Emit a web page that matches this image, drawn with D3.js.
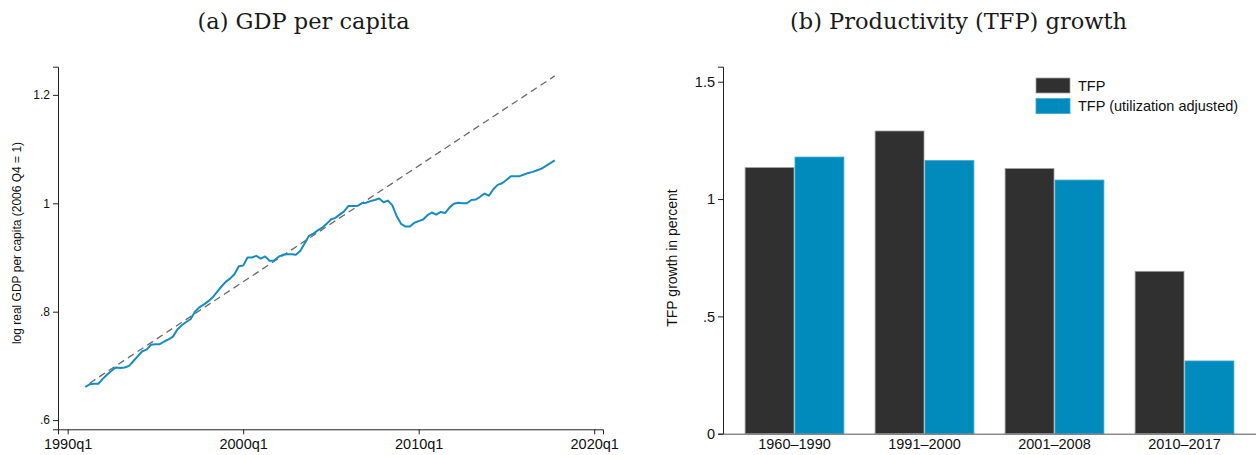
<!DOCTYPE html>
<html><head><meta charset="utf-8">
<script src="https://cdn.jsdelivr.net/npm/d3@7"></script>
<style>body{margin:0;background:#fff}svg{display:block}</style>
</head><body>
<svg id="c" width="1256" height="455"></svg>
<script>
// ---------- Data ----------
// Panel (a): quarterly log real GDP per capita, 1991q1 .. 2017q4 (Stata quarter index: 1960q1 = 0)
const gdpStartQuarter = 124; // 1991q1
const gdpValues = [
  0.661,0.666,0.667,0.667,0.676,0.684,0.691,0.697,0.696,0.697,0.700,0.709,0.718,0.727,0.730,0.739,
  0.740,0.740,0.745,0.749,0.754,0.767,0.775,0.781,0.786,0.800,0.808,0.813,0.819,0.826,0.836,0.846,
  0.855,0.861,0.869,0.884,0.885,0.900,0.900,0.903,0.898,0.902,0.894,0.894,0.901,0.905,0.906,0.906,
  0.905,0.912,0.926,0.940,0.944,0.950,0.955,0.962,0.970,0.973,0.979,0.985,0.995,0.995,0.995,1.000,
  1.001,1.004,1.006,1.009,1.002,1.005,0.996,0.976,0.962,0.957,0.957,0.964,0.967,0.970,0.978,0.983,
  0.979,0.984,0.982,0.992,0.999,1.001,1.000,1.000,1.006,1.007,1.012,1.018,1.014,1.026,1.034,1.037,
  1.043,1.050,1.050,1.050,1.053,1.056,1.058,1.061,1.064,1.069,1.074,1.079
];
const trendQuarters = [125, 231];     // 1991q2, 2017q4
const trendValues = [0.668, 1.235];
const gdpXTicks = [120, 160, 200, 240];
const gdpYTicks = [0.6, 0.8, 1.0, 1.2];

// Panel (b): TFP growth
const periods = ["1960\u20131990", "1991\u20132000", "2001\u20132008", "2010\u20132017"];
const tfp = [1.134, 1.290, 1.130, 0.692];
const tfpAdj = [1.179, 1.164, 1.081, 0.310];
const seriesNames = ["TFP", "TFP (utilization adjusted)"];
const tfpYTicks = [0, 0.5, 1, 1.5];

// ---------- Drawing ----------
const svg = d3.select("#c");
const sans = "'Liberation Sans', Arial, Helvetica, sans-serif";
const serif = "'DejaVu Serif', 'Liberation Serif', serif";
const fmtStata = v => { let s = d3.format("~g")(+v.toFixed(2)); return s.replace(/^0\./, "."); };

// Panel (a)
{
  const x = d3.scaleLinear().domain([117.8, 242]).range([58, 603]);
  const y = d3.scaleLinear().domain([0.583, 1.252]).range([429.3, 66.7]);
  const g = svg.append("g");

  g.append("text").attr("x", 303.5).attr("y", 29).attr("text-anchor", "middle")
    .style("font-family", serif).style("font-size", "22.5px").attr("fill", "#1a1a1a").text("(a) GDP per capita");

  const xa = g.append("g").attr("transform", "translate(0,429.3)")
    .call(d3.axisBottom(x).tickValues(gdpXTicks).tickSizeOuter(0).tickSize(5).tickPadding(4)
      .tickFormat(q => (1960 + Math.floor(q / 4)) + "q" + (q % 4 + 1)));
  xa.selectAll("text").style("font-family", sans).style("font-size", "14.5px").attr("fill", "#111");
  const ya = g.append("g").attr("transform", "translate(58,0)")
    .call(d3.axisLeft(y).tickValues(gdpYTicks).tickSizeOuter(0).tickSize(5).tickPadding(3).tickFormat(fmtStata));
  ya.selectAll("text").style("font-family", sans).style("font-size", "12px").attr("fill", "#111");
  g.selectAll(".domain").attr("stroke", "#222");
  g.selectAll(".tick line").attr("stroke", "#222");

  g.append("text").attr("transform", "translate(21,243) rotate(-90)").attr("text-anchor", "middle")
    .style("font-family", sans).style("font-size", "12px").attr("fill", "#111")
    .text("log real GDP per capita (2006 Q4 = 1)");

  // trend
  const trend = trendQuarters.map((q, i) => [q, trendValues[i]]);
  g.append("path").datum(trend)
    .attr("d", d3.line().x(d => x(d[0])).y(d => y(d[1])))
    .attr("fill", "none").attr("stroke", "#6a6a6a").attr("stroke-width", 1.3)
    .attr("stroke-dasharray", "7,4.5");

  const series = gdpValues.map((v, i) => [gdpStartQuarter + i, v]);
  g.append("path").datum(series)
    .attr("d", d3.line().x(d => x(d[0])).y(d => y(d[1])))
    .attr("fill", "none").attr("stroke", "#168cc2").attr("stroke-width", 2)
    .attr("stroke-linejoin", "round");
}

// Panel (b)
{
  const x0 = d3.scaleBand().domain(periods).range([723, 1256]).paddingInner(0.24).paddingOuter(0.17);
  const x1 = d3.scaleBand().domain(seriesNames).range([0, x0.bandwidth()]).paddingInner(0.02);
  const y = d3.scaleLinear().domain([0, 1.564]).range([433.7, 66.7]);
  const colors = ["#303030", "#008bbc"];
  const strokes = ["#a0a0a0", "#3fa6cf"];
  const g = svg.append("g");

  g.append("text").attr("x", 958.5).attr("y", 29).attr("text-anchor", "middle")
    .style("font-family", serif).style("font-size", "22.5px").attr("fill", "#1a1a1a").text("(b) Productivity (TFP) growth");

  const groups = g.selectAll(".grp").data(periods).join("g")
    .attr("transform", d => `translate(${x0(d)},0)`);
  groups.selectAll("rect").data((d, i) => [tfp[i], tfpAdj[i]]).join("rect")
    .attr("x", (d, j) => x1(seriesNames[j]))
    .attr("width", x1.bandwidth())
    .attr("y", d => y(d)).attr("height", d => y(0) - y(d))
    .attr("fill", (d, j) => colors[j]).attr("stroke", (d, j) => strokes[j]).attr("stroke-width", 0.8);

  const ya = g.append("g").attr("transform", "translate(723,0)")
    .call(d3.axisLeft(y).tickValues(tfpYTicks).tickSizeOuter(0).tickSize(5).tickPadding(3).tickFormat(fmtStata));
  ya.selectAll("text").style("font-family", sans).style("font-size", "14.5px").attr("fill", "#111");
  ya.select(".domain").attr("stroke", "#222");
  ya.selectAll(".tick line").attr("stroke", "#222");

  const xa = g.append("g").attr("transform", "translate(0,433.7)")
    .call(d3.axisBottom(x0).tickSize(0).tickSizeOuter(0).tickPadding(5));
  xa.select(".domain").attr("stroke", "#555");
  xa.selectAll("text").style("font-family", sans).style("font-size", "14.5px").attr("fill", "#111");

  g.append("text").attr("transform", "translate(677,258) rotate(-90)").attr("text-anchor", "middle")
    .style("font-family", sans).style("font-size", "14px").attr("fill", "#111")
    .text("TFP growth in percent");

  // legend
  const lg = g.append("g").attr("transform", "translate(1036,78)");
  seriesNames.forEach((s, i) => {
    lg.append("rect").attr("x", 0).attr("y", i * 20.6).attr("width", 34).attr("height", 15)
      .attr("fill", colors[i]).attr("stroke", strokes[i]).attr("stroke-width", 0.8);
    lg.append("text").attr("x", 42).attr("y", i * 20.6 + 12.5)
      .style("font-family", sans).style("font-size", "14.5px").attr("fill", "#111").text(s);
  });
}
</script>
</body></html>
